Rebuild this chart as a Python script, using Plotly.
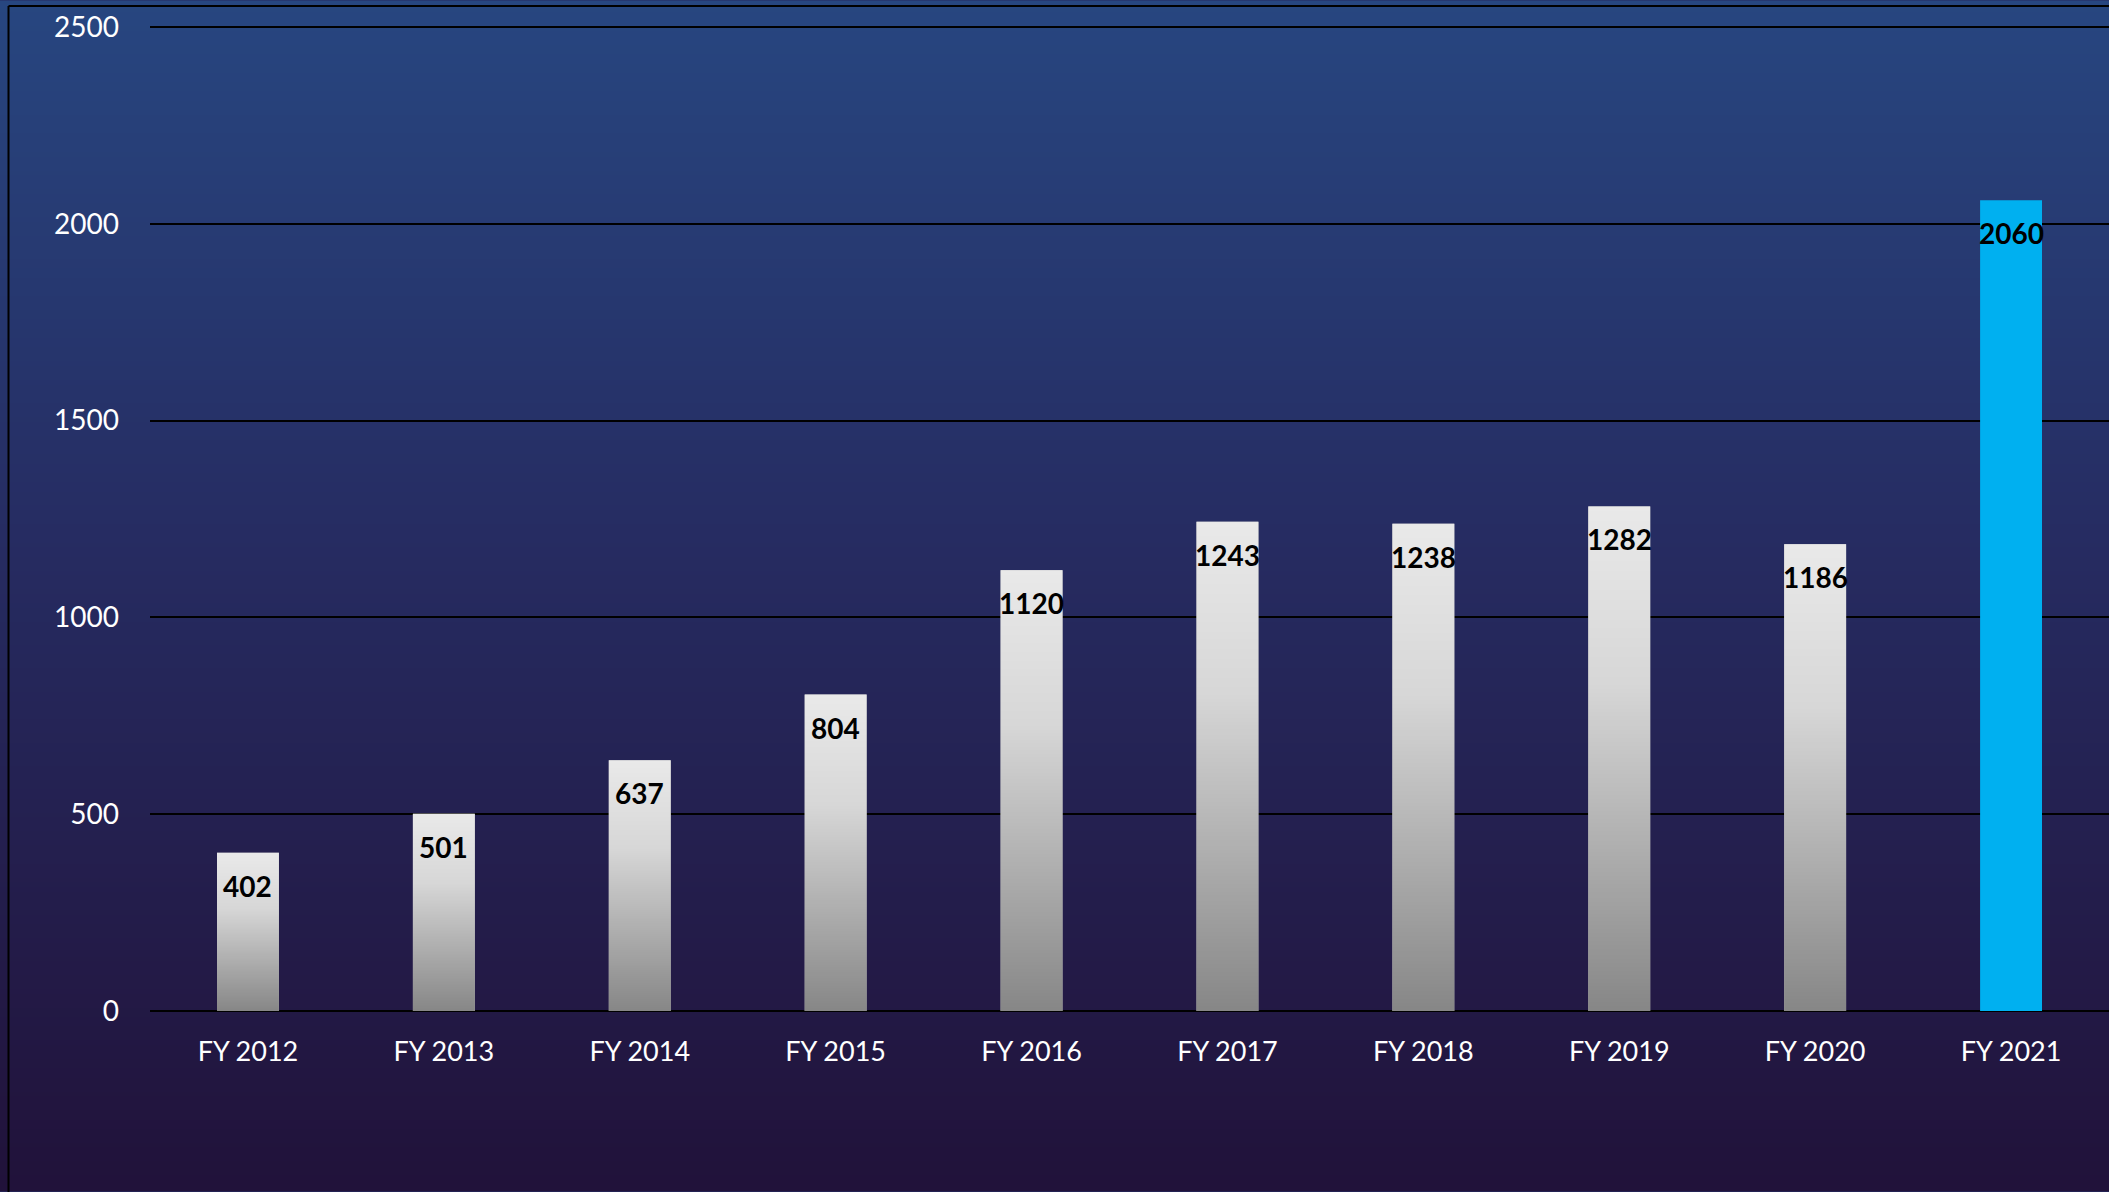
import base64
import struct
import zlib

import plotly.graph_objects as go

# ---------------- data ----------------
categories = ["FY 2012", "FY 2013", "FY 2014", "FY 2015", "FY 2016",
              "FY 2017", "FY 2018", "FY 2019", "FY 2020", "FY 2021"]
values = [402, 501, 637, 804, 1120, 1243, 1238, 1282, 1186, 2060]
highlight = "FY 2021"
y_ticks = [0, 500, 1000, 1500, 2000, 2500]

# ---------------- styles ----------------
W, H = 2109, 1192
Y_TOP = 2505                      # a little headroom so the 2500 gridline is drawn
PX_PER_UNIT = (1011.5 - 26.5) / 2500
M_L, M_R, M_B = 150, 0, 180.5
M_T = 26.5 - (Y_TOP - 2500) * PX_PER_UNIT
FONT = "Lato, 'Open Sans', sans-serif"
BAR_WIDTH = 0.316
GREY = "#bdbdbd"
CYAN = "#00b0f0"


def png_gradient(stops, h=256, w=4):
    """Vertical gradient PNG (top -> bottom) from (pos, (r,g,b)) stops."""
    rows = []
    for r in range(h):
        t = r / (h - 1)
        for k in range(len(stops) - 1):
            p0, c0 = stops[k]
            p1, c1 = stops[k + 1]
            if p0 <= t <= p1:
                f = 0 if p1 == p0 else (t - p0) / (p1 - p0)
                col = tuple(int(round(c0[j] + (c1[j] - c0[j]) * f)) for j in range(3))
                break
        rows.append(b"\x00" + bytes(col) * w)
    raw = b"".join(rows)

    def chunk(tag, data):
        return (struct.pack(">I", len(data)) + tag + data
                + struct.pack(">I", zlib.crc32(tag + data) & 0xFFFFFFFF))

    png = (b"\x89PNG\r\n\x1a\n"
           + chunk(b"IHDR", struct.pack(">IIBBBBB", w, h, 8, 2, 0, 0, 0))
           + chunk(b"IDAT", zlib.compress(raw, 9))
           + chunk(b"IEND", b""))
    return "data:image/png;base64," + base64.b64encode(png).decode()


bg_img = png_gradient([(0.0, (39, 70, 128)),
                       (0.45, (38, 44, 98)),
                       (0.8, (35, 27, 72)),
                       (1.0, (33, 18, 58))])
bar_img = png_gradient([(0.0, (233, 233, 233)),
                        (0.35, (215, 215, 215)),
                        (1.0, (135, 135, 135))])

colors = [CYAN if c == highlight else GREY for c in categories]

fig = go.Figure()
fig.add_trace(go.Bar(
    x=categories, y=values, width=BAR_WIDTH,
    marker=dict(color=colors, line=dict(width=0)),
    hoverinfo="x+y",
))

plot_w = W - M_L - M_R
plot_h = H - M_T - M_B

images = [dict(
    source=bg_img, xref="paper", yref="paper",
    x=-M_L / plot_w, y=1 + M_T / plot_h,
    sizex=W / plot_w, sizey=H / plot_h,
    xanchor="left", yanchor="top", sizing="stretch", layer="below",
)]
for i, (c, v) in enumerate(zip(categories, values)):
    if c == highlight:
        continue
    images.append(dict(
        source=bar_img, xref="x", yref="y",
        x=i, y=v, sizex=BAR_WIDTH, sizey=v,
        xanchor="center", yanchor="top", sizing="stretch", layer="above",
    ))

annotations = [dict(
    x=c, y=v, text=str(v), showarrow=False, yanchor="middle", yshift=-33,
    font=dict(family=FONT, size=28, color="black", weight="bold"),
) for c, v in zip(categories, values)]

# black frame: only its left and top edges are inside the picture
fx = (8.5 - M_L) / plot_w
fy = 1 + (M_T - 5.5) / plot_h
shapes = [
    dict(type="line", xref="paper", yref="paper",
         x0=fx, x1=fx, y0=-M_B / plot_h - 0.01, y1=fy,
         line=dict(color="black", width=2), layer="above"),
    dict(type="line", xref="paper", yref="paper",
         x0=fx, x1=1.01, y0=fy, y1=fy,
         line=dict(color="black", width=2), layer="above"),
]

fig.update_layout(
    width=W, height=H,
    margin=dict(l=M_L, r=M_R, t=M_T, b=M_B, pad=0),
    paper_bgcolor="#262b60", plot_bgcolor="rgba(0,0,0,0)",
    showlegend=False,
    images=images, annotations=annotations, shapes=shapes,
    font=dict(family=FONT, color="white"),
    xaxis=dict(
        type="category", range=[-0.5, 9.5], showgrid=False, showline=False,
        zeroline=False, ticks="", tickfont=dict(size=27, color="white"),
        ticklabelstandoff=22, fixedrange=True,
    ),
    yaxis=dict(
        range=[0, Y_TOP], tickvals=y_ticks, showgrid=True, gridcolor="black",
        gridwidth=2, zeroline=True, zerolinecolor="black", zerolinewidth=2,
        showline=False, ticks="", tickfont=dict(size=28, color="white"),
        ticklabelstandoff=30, fixedrange=True,
    ),
)

fig.write_html(
    "out.html",
    config={"displayModeBar": False},
    post_script="document.body.style.margin='0';"
                "document.body.style.overflow='hidden';"
                "document.body.style.background='#262b60';",
)
